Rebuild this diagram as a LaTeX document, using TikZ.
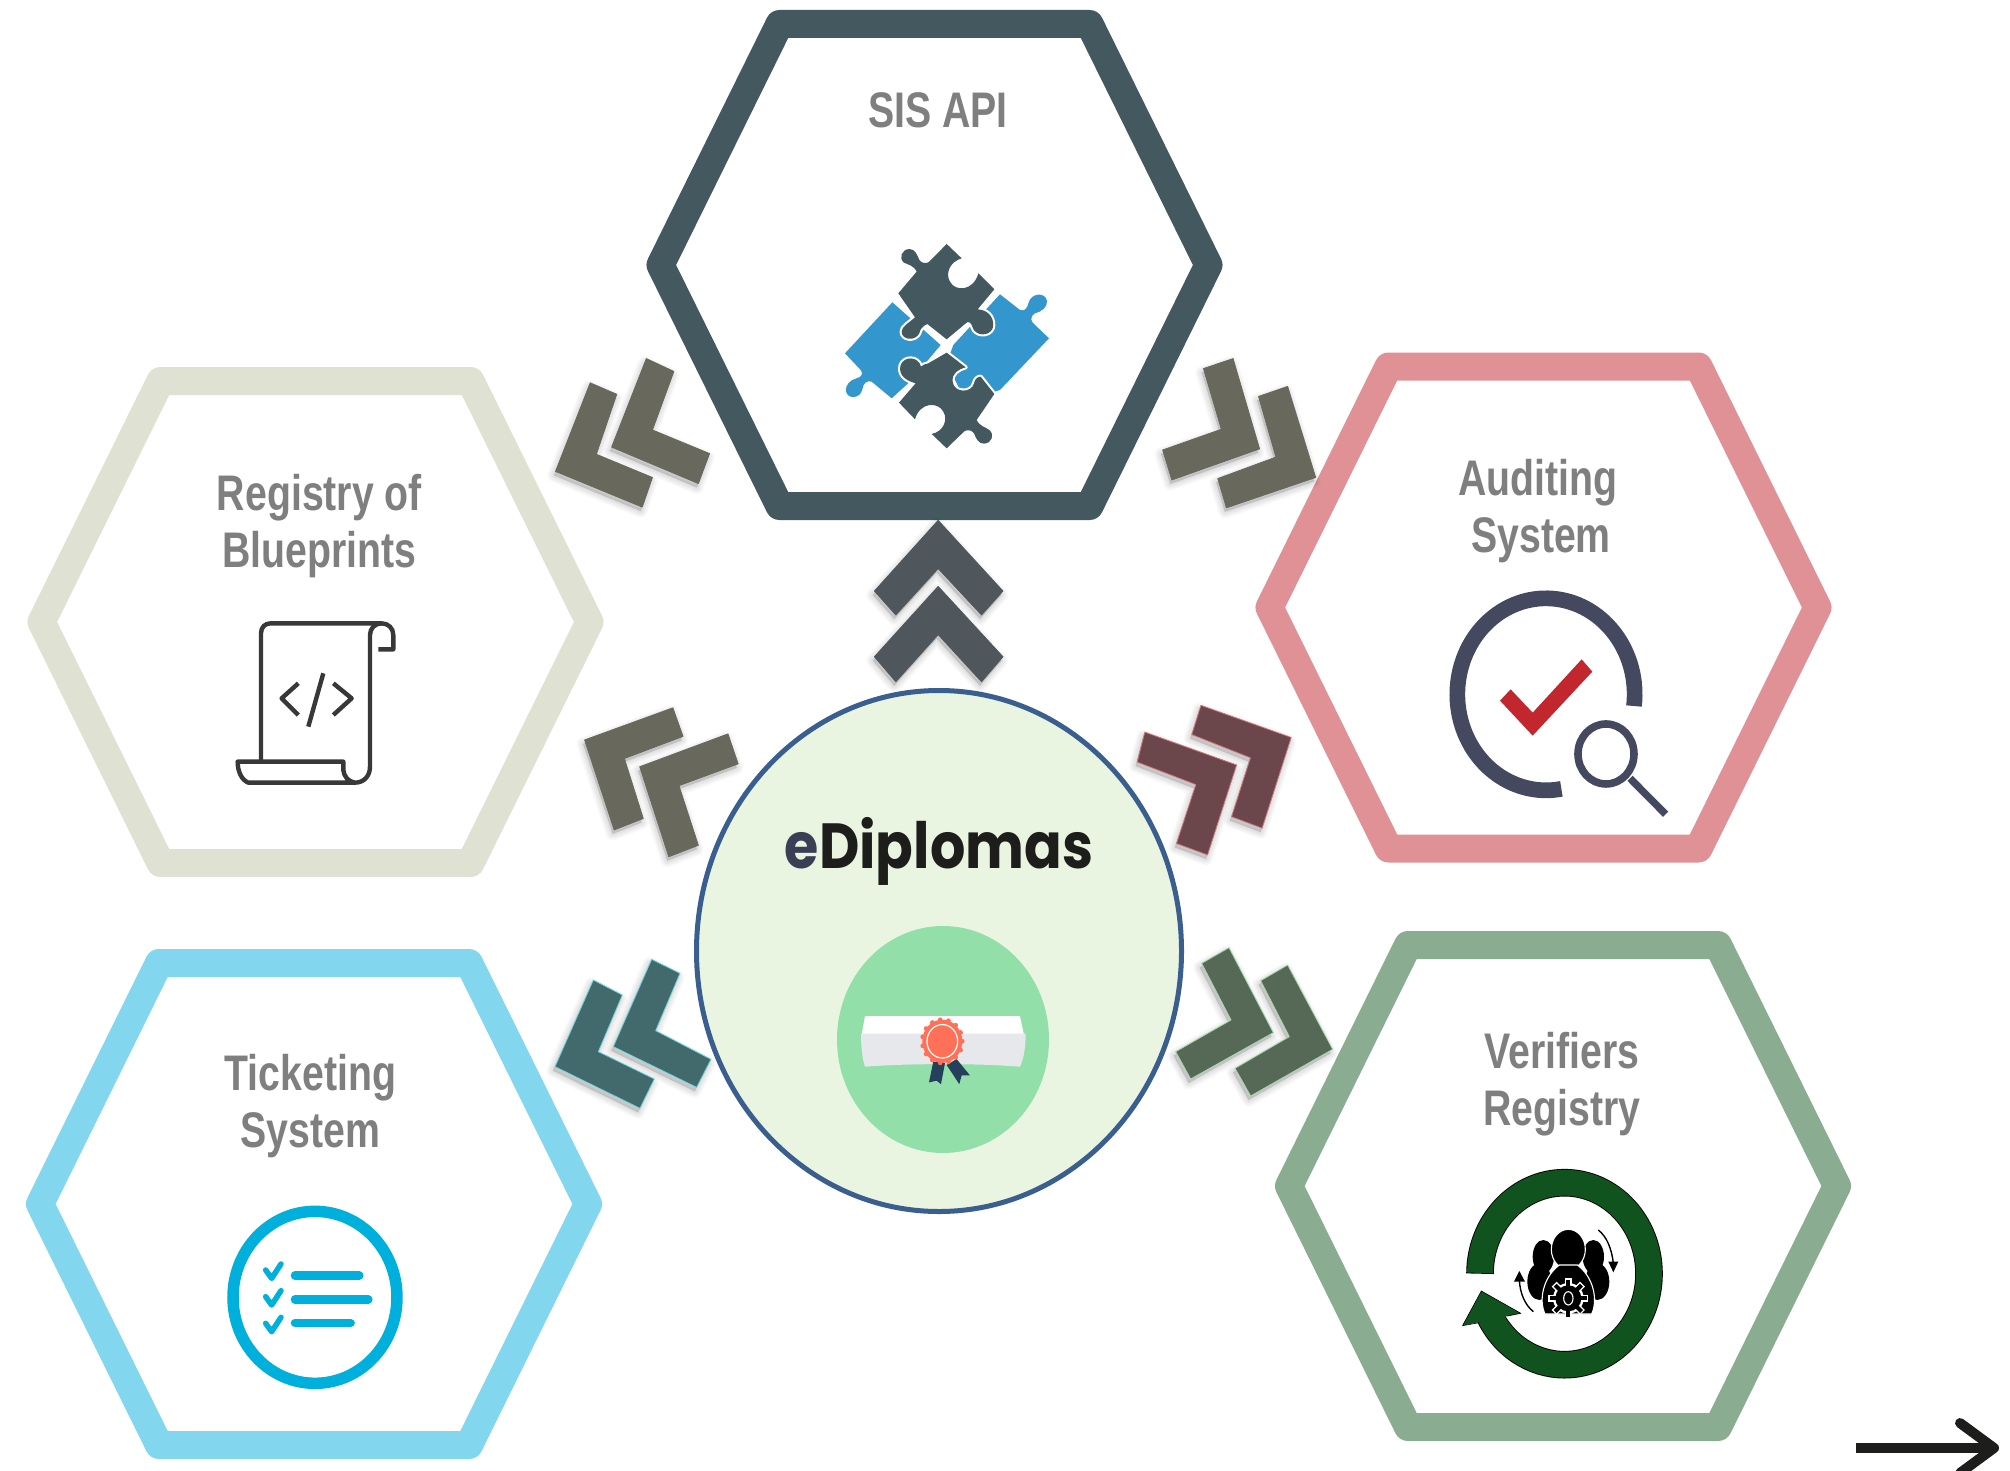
\documentclass[tikz,border=0pt]{standalone}
\usepackage{fontspec}
\usepackage{graphicx}
\setmainfont{Liberation Sans}
\newfontfamily\popfont{Poppins}
\definecolor{hexsis}{HTML}{44585F}
\definecolor{hexreg}{HTML}{DFE1D2}
\definecolor{hexaud}{HTML}{E09196}
\definecolor{hextic}{HTML}{82D6EE}
\definecolor{hexver}{HTML}{8AAC90}
\definecolor{lblgrey}{HTML}{7F7F7F}
\definecolor{circfill}{HTML}{E9F5E0}
\definecolor{circline}{HTML}{3A5F8E}
\definecolor{circin}{HTML}{92DFA9}
\definecolor{puzblue}{HTML}{3397CE}
\definecolor{ringdark}{HTML}{44495F}
\definecolor{checkred}{HTML}{C1272D}
\definecolor{tickblue}{HTML}{00B0DC}
\definecolor{verigreen}{HTML}{11531F}
\definecolor{chevup}{HTML}{50575C}
\definecolor{chevgrey}{HTML}{68685C}
\definecolor{chevbrown}{HTML}{6B474B}
\definecolor{chevteal}{HTML}{42696B}
\definecolor{chevgreen}{HTML}{566856}
\definecolor{edgeteal}{HTML}{6ED7DD}
\definecolor{edgegreen}{HTML}{A7D8AE}
\definecolor{edgepink}{HTML}{D07A80}
\definecolor{sealred}{HTML}{FF7058}
\definecolor{ribbon}{HTML}{25405A}
\definecolor{scrollgrey}{HTML}{E6E8EC}
\definecolor{ename}{HTML}{3A3F55}
\definecolor{inkdark}{HTML}{1D1D1B}
\newcommand\nrw[1]{\scalebox{0.785}[1]{#1}}
\newcommand\hexa[3]{\draw[hexline,draw=#3,shift={(#1,#2)}] (-155,-241) -- (155,-241) -- (274,0) -- (155,241) -- (-155,241) -- (-274,0) -- cycle;}
% colour, edge, polygon; \sdx \sdy hold the shadow shift in the current frame
\newcommand\chv[3]{%
  \foreach \w in {13,10,7,4,1}{\path[fill=black,draw=black,opacity=.028,line width=\w pt,line join=round,shift={(\sdx pt,\sdy pt)}] #3;}
  \path[fill=#1,draw=#2,line width=.8pt,line join=round] #3;}
\tikzset{
  hexline/.style={line width=28pt,line join=round,fill=white},
  lbl/.style={text=lblgrey,font=\fontsize{50}{57}\selectfont\bfseries,align=center,inner sep=0pt},
  zoomb/.style={shift={(530,340)},xscale=0.5102,yscale=0.3571},
  zoomc/.style={shift={(680,680)},xscale=0.3333,yscale=0.3484},
  puz/.style={preaction={draw=white,line width=4.2pt,line join=round},fill=hexsis},
  scrollink/.style={draw=black!78,line width=4.4pt,line join=round},
}
\begin{document}
\begin{tikzpicture}[x=1pt,y=-1pt]
\clip (0,0) rectangle (2010,1471);
\fill[white] (0,0) rectangle (2010,1471);
% hexagons
\hexa{934.5}{265}{hexsis}
\hexa{315.5}{622}{hexreg}
\hexa{1543.5}{607.5}{hexaud}
\hexa{314}{1204}{hextic}
\hexa{1563}{1186}{hexver}
% central circle
\draw[fill=circfill,draw=circline,line width=5pt] (939,951) ellipse (242.5 and 260.5);
\fill[circin] (943,1039.5) ellipse (106 and 113.5);
% chevrons from zoom frame b
\begin{scope}[zoomb]
\def\sdx{-3}\def\sdy{-11}
\chv{chevup}{chevup}{(800,505) -- (927,703) -- (885,770) -- (800,640) -- (717,770) -- (675,703) -- cycle}
\chv{chevup}{chevup}{(800,690) -- (927,887) -- (885,957) -- (800,825) -- (717,957) -- (675,887) -- cycle}
\chv{chevgrey}{chevgrey}{(118,120) -- (170,152) -- (130,320) -- (240,385) -- (220,468) -- (50,368) -- cycle}
\chv{chevgrey}{chevgrey}{(228,52) -- (282,88) -- (240,252) -- (352,318) -- (330,402) -- (160,300) -- cycle}
\chv{chevgrey}{chevgrey}{(1320,80) -- (1378,52) -- (1430,305) -- (1258,392) -- (1240,308) -- (1355,250) -- cycle}
\chv{chevgrey}{chevgrey}{(1428,158) -- (1485,130) -- (1540,385) -- (1365,470) -- (1348,388) -- (1462,328) -- cycle}
\chv{chevgrey}{chevgrey}{(107,1120) -- (280,1030) -- (300,1110) -- (185,1172) -- (222,1340) -- (165,1372) -- cycle}
\chv{chevgrey}{chevgrey}{(215,1195) -- (388,1103) -- (408,1187) -- (292,1248) -- (330,1415) -- (272,1447) -- cycle}
\chv{chevbrown}{edgepink}{(1205,1098) -- (1385,1190) -- (1328,1442) -- (1267,1410) -- (1305,1245) -- (1190,1182) -- cycle}
\chv{chevbrown}{edgepink}{(1315,1023) -- (1492,1113) -- (1435,1367) -- (1375,1335) -- (1412,1170) -- (1297,1105) -- cycle}
\end{scope}
\begin{scope}[shift={(540,940)},scale=0.3333]
\def\sdx{-6}\def\sdy{-12}
\chv{chevteal}{edgeteal}{(160,120) -- (247,165) -- (175,335) -- (343,417) -- (300,505) -- (45,380) -- cycle}
\chv{chevteal}{edgeteal}{(335,58) -- (420,100) -- (347,272) -- (513,358) -- (470,442) -- (220,320) -- cycle}
\end{scope}
\begin{scope}[shift={(1160,930)},scale=0.3333]
\def\sdx{-6}\def\sdy{-12}
\chv{chevgreen}{edgegreen}{(125,100) -- (207,53) -- (340,308) -- (92,447) -- (47,365) -- (213,270) -- cycle}
\chv{chevgreen}{edgegreen}{(302,152) -- (383,105) -- (518,358) -- (272,498) -- (225,415) -- (388,320) -- cycle}
\end{scope}
% labels
\node[lbl] (sis) at (938,110) {\nrw{SIS API}};
\node[lbl] (reg) at (319.5,526) {\nrw{Registry of}\\\nrw{Blueprints}};
\node[lbl] (aud) at (1538,511) {\nrw{Auditing}\\\hspace*{6pt}\nrw{System}};
\node[lbl] (tic) at (310.5,1106) {\nrw{Ticketing}\\\nrw{System}};
\node[lbl] (ver) at (1562,1084.5) {\nrw{Verifiers}\\\nrw{Registry}};
\node[inner sep=0pt,text=inkdark] (edip) at (939,851.6) {\resizebox*{308pt}{68pt}{\popfont\bfseries{\color{ename}e}Diplomas}};
% diploma icon
\begin{scope}[zoomc]
\fill[white] (555,965) -- (1020,965) -- (1032,1018) -- (545,1018) -- cycle;
\fill[scrollgrey] (543,1015) -- (1037,1015) .. controls (1037,1060) and (1030,1090) .. (1020,1110) .. controls (900,1100) and (680,1100) .. (555,1110) .. controls (548,1090) and (543,1060) .. (543,1015) -- cycle;
\fill[ribbon] (760,1095) -- (795,1100) -- (783,1160) -- (770,1150) -- (747,1155) -- cycle;
\fill[ribbon] (800,1105) -- (830,1088) -- (870,1135) -- (845,1135) -- (838,1160) -- cycle;
\fill[sealred] (787,1037) ellipse (60 and 62);
\foreach \a in {0,24,...,336}{\fill[sealred] (787,1037) ++(\a:60 and 62) ellipse (7 and 7);}
\draw[white,line width=1.2pt] (787,1037) ellipse (46 and 48);
\end{scope}
% puzzle icon
\begin{scope}[shift={(830,230)},scale=0.3333]
\fill[puzblue] (187,217) -- (332,345) -- (240,455) -- (185,505) -- (125,455) .. controls (110,450) and (100,460) .. (97,478) .. controls (92,505) and (55,510) .. (48,485) .. controls (45,465) and (60,450) .. (80,445) .. controls (95,442) and (100,430) .. (92,420) -- (45,370) -- cycle;
\fill[puzblue] (510,193) -- (570,240) .. controls (585,245) and (592,235) .. (597,215) .. controls (605,190) and (645,185) .. (651,212) .. controls (653,232) and (635,245) .. (615,250) .. controls (605,255) and (600,268) .. (608,278) -- (657,325) -- (510,480) -- (480,490) -- (400,500) -- (350,400) -- (370,345) -- cycle;
\path[puz] (350,42) -- (395,85) .. controls (360,95) and (345,130) .. (360,155) .. controls (375,185) and (430,185) .. (445,130) -- (493,178) -- (443,238) .. controls (480,240) and (495,270) .. (488,295) .. controls (478,320) and (435,320) .. (427,290) .. controls (424,278) and (415,270) .. (405,282) -- (350,328) -- (292,282) .. controls (278,288) and (270,298) .. (268,310) .. controls (255,335) and (215,330) .. (215,305) .. controls (215,290) and (235,280) .. (255,262) -- (205,190) -- (260,125) .. controls (250,105) and (235,105) .. (222,98) .. controls (205,85) and (215,58) .. (238,57) .. controls (255,57) and (262,75) .. (268,90) .. controls (275,100) and (288,102) .. (297,96) -- cycle;
\path[puz] (350,368) -- (407,412) .. controls (385,418) and (365,430) .. (368,455) .. controls (372,490) and (425,490) .. (432,460) .. controls (435,445) and (445,440) .. (452,440) -- (493,492) -- (440,570) .. controls (450,590) and (465,590) .. (478,600) .. controls (495,615) and (485,640) .. (462,641) .. controls (445,641) and (438,625) .. (432,610) .. controls (425,600) and (412,598) .. (403,604) -- (350,655) -- (305,612) .. controls (340,605) and (355,570) .. (340,545) .. controls (325,515) and (270,515) .. (255,568) -- (207,518) -- (257,460) .. controls (220,450) and (205,430) .. (212,405) .. controls (222,378) and (265,378) .. (273,410) .. controls (277,405) and (285,402) .. (295,400) -- cycle;
\end{scope}
% scroll icon
\begin{scope}[shift={(200,590)},scale=0.3333]
\draw[scrollink] (183,510) -- (183,130) .. controls (183,112) and (195,100) .. (212,100) -- (545,100) .. controls (565,100) and (580,115) .. (580,135) -- (580,178) -- (535,178);
\draw[scrollink] (545,100) .. controls (525,100) and (510,115) .. (510,135) -- (510,530) .. controls (510,560) and (490,578) .. (465,578) -- (145,578) .. controls (125,570) and (113,545) .. (113,515) -- (430,515) -- (430,540) .. controls (432,560) and (445,575) .. (465,578);
\draw[scrollink] (295,280) -- (245,325) -- (295,375);
\draw[scrollink] (400,280) -- (455,325) -- (400,375);
\draw[scrollink] (370,250) -- (325,410);
\end{scope}
% auditing icon
\begin{scope}[shift={(1400,570)},scale=0.3333]
\draw[ringdark,line width=15.7pt] (438,373) ++(7:266 and 288) arc[start angle=7,end angle=-280,x radius=266,y radius=288];
\fill[checkred] (300,392) -- (332,358) -- (398,428) -- (545,268) -- (577,305) -- (398,497) -- cycle;
\draw[ringdark,line width=7.6pt] (618,552) ellipse (84 and 90);
\draw[ringdark,line width=7.3pt] (690,625) -- (797,733);
\end{scope}
% ticketing icon
\begin{scope}[shift={(200,1180)},scale=0.3333]
\draw[tickblue,line width=11.5pt] (345,352) ellipse (246 and 258);
\foreach \y/\xe in {287/478,358/505,429/452}{\draw[tickblue,line width=8.5pt,line cap=round] (285,\y) -- (\xe,\y);}
\foreach \y in {270,350,430}{\draw[tickblue,line width=5.5pt,line cap=round,line join=round] (197,\y) -- (215,\y+25) -- (243,\y-18);}
\end{scope}
% verifiers icon
\draw[black,line width=27.6pt] (1564.5,1273.7) ++(180:84.5 and 91) arc[start angle=180,end angle=514,x radius=84.5,y radius=91];
\draw[verigreen,line width=25.8pt] (1564.5,1273.7) ++(180.5:84.5 and 91) arc[start angle=180.5,end angle=514,x radius=84.5,y radius=91];
\begin{scope}[shift={(1420,1150)},xscale=0.3762,yscale=0.3333]
\fill[verigreen] (163,423) -- (268,490) -- (113,527) -- cycle;
\draw[black,line width=.6pt,line join=round] (158,518) -- (113,527) -- (163,423) -- (268,490) -- (232,498);
\end{scope}
\begin{scope}[shift={(1500,1210)},scale=0.3333]
\fill[black] (130,140) ellipse (32 and 50);
\fill[black] (118,215) ellipse (36 and 55);
\fill[black] (280,140) ellipse (32 and 50);
\fill[black] (292,215) ellipse (36 and 55);
\draw[white,line width=1.1pt,fill=black] (205,118) ellipse (51 and 60);
\draw[white,line width=1.1pt,fill=black] (178,165) .. controls (130,200) and (115,270) .. (135,312) -- (275,312) .. controls (295,270) and (280,200) .. (232,165) -- cycle;
\foreach \a in {0,45,...,315}{\draw[white,line width=7pt] (205,265) ++(\a:28) -- ++(\a:32);}
\fill[white] (205,265) circle (46);
\foreach \a in {0,45,...,315}{\draw[black,line width=4.2pt] (205,265) ++(\a:28) -- ++(\a:28);}
\fill[black] (205,265) circle (39);
\draw[white,line width=1.1pt] (205,265) ellipse (14 and 20);
\draw[black,line width=1.4pt] (295,60) .. controls (320,80) and (335,115) .. (340,160);
\fill[black] (325,155) -- (355,155) -- (340,187) -- cycle;
\draw[black,line width=1.4pt] (100,305) .. controls (75,285) and (60,250) .. (58,210);
\fill[black] (42,215) -- (75,215) -- (58,183) -- cycle;
\end{scope}
% bottom right arrow
\coordinate (arrowa) at (1856,1448);
\coordinate (arrowb) at (1990,1448);
\coordinate (arrowt) at (1994,1448);
\coordinate (arrowu) at (1960,1423);
\coordinate (arrowd) at (1960,1473);
\draw[inkdark,line width=10pt] (arrowa) -- (arrowb);
\draw[inkdark,line width=10pt,line join=round,line cap=round] (arrowu) -- (arrowt) -- (arrowd);
\end{tikzpicture}
\end{document}
